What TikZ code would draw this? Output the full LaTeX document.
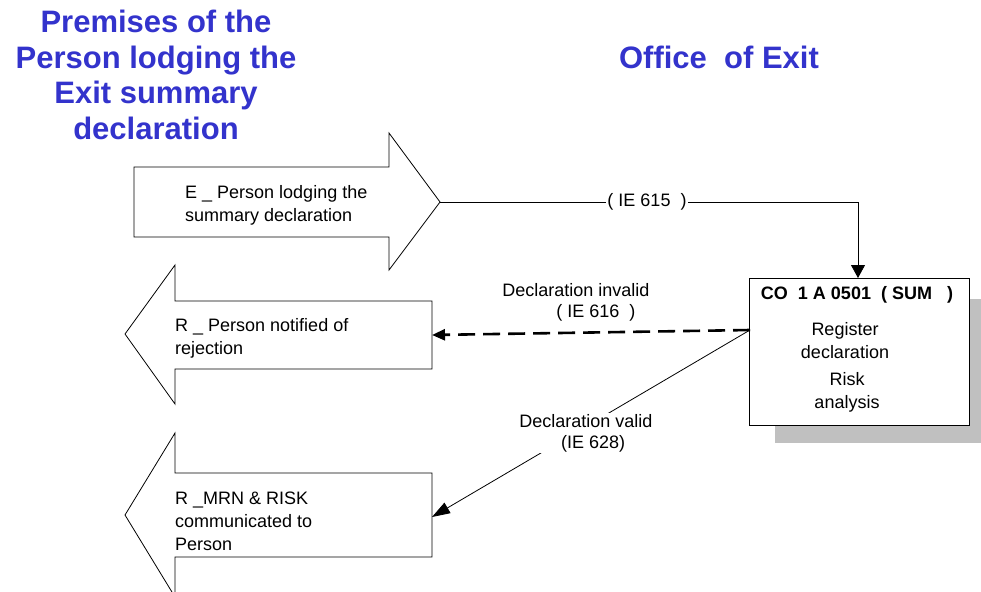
\documentclass[tikz,border=0pt]{standalone}
\usepackage{fontspec}
\setmainfont{Liberation Sans}
\usetikzlibrary{arrows.meta}
\definecolor{ttl}{RGB}{51,51,204}
\definecolor{shadowgray}{RGB}{192,192,192}
\begin{document}
\begin{tikzpicture}[x=1pt,y=-1pt,
  titletext/.style={font=\fontsize{31}{35.5}\selectfont\bfseries, text=ttl, align=center, inner sep=0pt},
  bodytext/.style={font=\fontsize{18}{23}\selectfont, align=left, anchor=west, inner sep=0pt},
  boxtext/.style={font=\fontsize{18}{23}\selectfont, align=center, inner sep=0pt},
  bigarrow/.style={draw=black, line width=0.8pt, fill=white, line join=miter},
  conn/.style={draw=black, line width=0.8pt, -{Triangle[length=13pt,width=14pt]}},
  dashconn/.style={draw=black, line width=2.6pt, dash pattern=on 17pt off 8pt, -{Triangle[length=13pt,width=11pt]}},
  labeltext/.style={font=\fontsize{18}{21}\selectfont, align=center, inner sep=1pt}
]
\useasboundingbox (0,0) rectangle (981,591);

% titles
\node[titletext] (prem) at (156,75) {Premises of the\\Person lodging the\\Exit summary\\declaration};
\node[titletext] (office) at (719,57) {Office\ \ of Exit};

% arrow E
\draw[bigarrow] (134,167) -- (389,167) -- (389,133) -- (440,202) -- (389,270) -- (389,237) -- (134,237) -- cycle;
\coordinate (tipE) at (440,202);
\node[bodytext] (eText) at (185,205) {E \_ Person lodging the\\summary declaration};

% arrow R1
\draw[bigarrow] (432,301) -- (175,301) -- (175,265) -- (125,334) -- (175,404) -- (175,369) -- (432,369) -- cycle;
\coordinate (inR1) at (432,335);
\node[bodytext] (r1Text) at (175,338) {R \_ Person notified of\\rejection};

% arrow R2
\draw[bigarrow] (432,473) -- (175,473) -- (175,433) -- (125,515) -- (175,597) -- (175,557) -- (432,557) -- cycle;
\coordinate (inR2) at (432,517);
\node[bodytext] (r2Text) at (175,521) {R \_MRN \& RISK\\communicated to\\Person};

% process box with shadow
\fill[shadowgray] (775,299) rectangle (981,443);
\draw[black, line width=0.8pt, fill=white] (749,278) rectangle (969,425);
\coordinate (boxTop) at (858,278);
\coordinate (boxLeft) at (750,330);
\node[font=\fontsize{18}{22}\selectfont\bfseries, inner sep=0pt] (boxTitle) at (857,295) {CO\ \ 1 A 0501\ \ ( SUM\ \ \ )};
\node[boxtext] (reg) at (845,341) {Register\\declaration};
\node[boxtext] (risk) at (847,392) {Risk\\analysis};

% IE 615 connector
\draw[conn] (tipE) -- (858,202) -- (boxTop);
\node[labeltext, fill=white] (ie615) at (647,202) {( IE 615\ \ )};

% invalid
\draw[dashconn] (boxLeft) -- (inR1);
\node[labeltext] (inv) at (576,302) {Declaration invalid\\\hspace*{2.2em}( IE 616\ \ )};

% valid
\draw[black, line width=0.8pt, -{Triangle[length=18pt,width=12pt]}] (boxLeft) -- (inR2);
\node[labeltext, fill=white] (val) at (586,433) {Declaration valid\\\hspace*{0.8em}(IE 628)};
\end{tikzpicture}
\end{document}
